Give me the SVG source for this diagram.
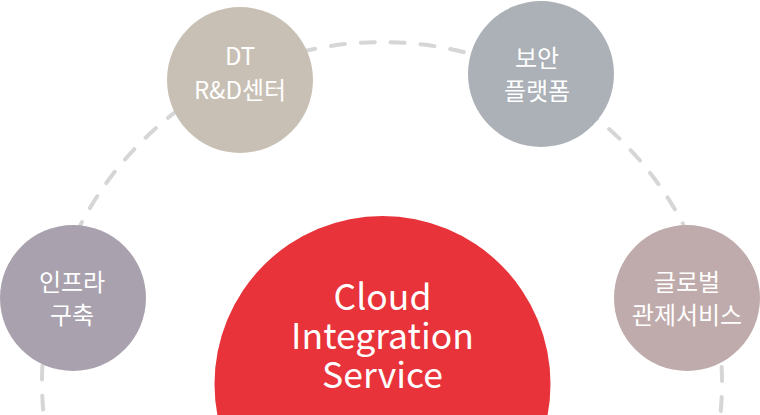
<svg xmlns="http://www.w3.org/2000/svg" width="760" height="415" viewBox="0 0 760 415">
<style>
.t{font-family:"Noto Sans CJK KR","Noto Sans",sans-serif;fill:#ffffff;text-anchor:middle}
.s{font-size:24px;font-weight:400}
.b{font-size:35.5px}
.dash{fill:none;stroke:#D6D6D6;stroke-width:4;stroke-linecap:round;stroke-dasharray:14 16;stroke-dashoffset:24.5}
</style>
<rect width="760" height="415" fill="#ffffff"/>
<g id="connectors">
<path class="dash" d="M 43.6 415 A 340 340 0 1 1 720.4 415"/>
</g>
<g id="center">
<circle cx="382.5" cy="384" r="168" fill="#E8333A"/>
<text class="t b" x="382.5" y="310">Cloud</text>
<text class="t b" x="382.5" y="349">Integration</text>
<text class="t b" x="382.5" y="388">Service</text>
</g>
<g id="infra">
<circle cx="73" cy="298" r="73" fill="#A9A2AE"/>
<text class="t s" x="72" y="291">인프라</text>
<text class="t s" x="72" y="324">구축</text>
</g>
<g id="dt">
<circle cx="240" cy="80" r="73" fill="#C8C0B4"/>
<text class="t s" x="240" y="65">DT</text>
<text class="t s" x="240" y="99">R&amp;D센터</text>
</g>
<g id="security">
<circle cx="541" cy="74" r="73" fill="#ABB1B7"/>
<text class="t s" x="537" y="67">보안</text>
<text class="t s" x="537" y="100">플랫폼</text>
</g>
<g id="global">
<circle cx="687" cy="298" r="73" fill="#BFABAB"/>
<text class="t s" x="687" y="291">글로벌</text>
<text class="t s" x="687" y="324">관제서비스</text>
</g>
</svg>
